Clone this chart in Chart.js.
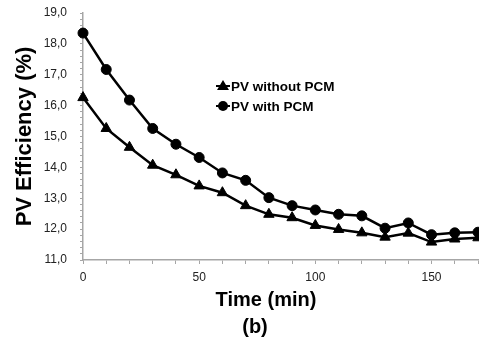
<!DOCTYPE html>
<html>
<head>
<meta charset="utf-8">
<script src="https://cdn.jsdelivr.net/npm/chart.js@4.4.0/dist/chart.umd.min.js"></script>
<style>
    html, body { margin: 0; padding: 0; background: #fff; }
    #wrap { position: relative; width: 479px; height: 347px; }
</style>
</head>
<body>
<div id="wrap"><canvas id="effChart"></canvas></div>
<script>
// Data
const times = [0, 10, 20, 30, 40, 50, 60, 70, 80, 90, 100, 110, 120, 130, 140, 150, 160, 170];
const pvWithoutPcm = [16.26, 15.26, 14.65, 14.07, 13.76, 13.40, 13.18, 12.76, 12.48, 12.37, 12.12, 11.99, 11.88, 11.74, 11.87, 11.58, 11.68, 11.72];
const pvWithPcm = [18.35, 17.17, 16.18, 15.26, 14.75, 14.32, 13.82, 13.58, 13.02, 12.76, 12.62, 12.48, 12.43, 12.03, 12.20, 11.82, 11.88, 11.90];
const seriesNames = ['PV without PCM', 'PV with PCM'];
const xTickLabels = [0, 50, 100, 150];
const yTickLabels = [11, 12, 13, 14, 15, 16, 17, 18, 19];

const FONT = "'Liberation Sans', Arial, sans-serif";

function toPoints(values) {
    return times.map((t, i) => ({ x: t, y: values[i] }));
}

// Legend + axis title + panel label drawn on the canvas
const extraText = {
    id: 'extraText',
    afterDraw(chart) {
        const ctx = chart.ctx;
        const area = chart.chartArea;
        ctx.save();
        ctx.fillStyle = '#000';
        ctx.strokeStyle = '#000';

        // legend
        const styles = ['triangle', 'circle'];
        seriesNames.forEach((name, i) => {
            const mx = area.left + 140;
            const my = area.top + 73 + i * 20;
            ctx.lineWidth = 2;
            ctx.beginPath();
            ctx.moveTo(mx - 7, my);
            ctx.lineTo(mx + 7, my);
            ctx.stroke();
            ctx.beginPath();
            if (styles[i] === 'circle') {
                ctx.arc(mx, my, 5, 0, Math.PI * 2);
            } else {
                ctx.moveTo(mx, my - 6);
                ctx.lineTo(mx + 6, my + 4);
                ctx.lineTo(mx - 6, my + 4);
                ctx.closePath();
            }
            ctx.fill();
            ctx.font = 'bold 13.5px ' + FONT;
            ctx.textAlign = 'left';
            ctx.textBaseline = 'middle';
            ctx.fillText(name, mx + 8, my + 1);
        });

        // x axis title and panel label
        ctx.font = 'bold 20px ' + FONT;
        ctx.textAlign = 'center';
        ctx.textBaseline = 'middle';
        ctx.fillText('Time (min)', 266, 300);
        ctx.fillText('(b)', 255, 327);
        ctx.restore();
    }
};

const ctx = document.getElementById('effChart').getContext('2d');

new Chart(ctx, {
    type: 'line',
    data: {
        datasets: [
            {
                label: seriesNames[0],
                data: toPoints(pvWithoutPcm),
                borderColor: '#000',
                backgroundColor: '#000',
                borderWidth: 2.5,
                pointStyle: 'triangle',
                pointRadius: 6,
                pointBorderWidth: 1,
                tension: 0,
                clip: false
            },
            {
                label: seriesNames[1],
                data: toPoints(pvWithPcm),
                borderColor: '#000',
                backgroundColor: '#000',
                borderWidth: 2.5,
                pointStyle: 'circle',
                pointRadius: 5,
                pointBorderWidth: 1,
                tension: 0,
                clip: false
            }
        ]
    },
    options: {
        responsive: true,
        maintainAspectRatio: false,
        animation: false,
        layout: {
            autoPadding: false,
            padding: { left: 0, right: 1, top: 13, bottom: 0 }
        },
        plugins: {
            legend: { display: false },
            tooltip: { enabled: false },
            title: { display: false }
        },
        scales: {
            x: {
                type: 'linear',
                min: 0,
                max: 170,
                afterFit: s => {
                    s.height = 87;
                    s.paddingLeft = 0;
                    s.paddingRight = 0;
                },
                grid: {
                    drawOnChartArea: false,
                    color: '#a6a6a6',
                    tickLength: 4,
                    tickColor: '#a6a6a6'
                },
                border: { color: '#a6a6a6', width: 1.5 },
                ticks: {
                    stepSize: 10,
                    autoSkip: false,
                    maxRotation: 0,
                    padding: 6,
                    color: '#222',
                    font: { family: FONT, size: 12 },
                    callback: v => xTickLabels.includes(v) ? String(v) : ''
                }
            },
            y: {
                min: 11,
                max: 19,
                afterFit: s => {
                    s.width = 83;
                    s.paddingTop = 0;
                    s.paddingBottom = 0;
                },
                grid: {
                    drawOnChartArea: false,
                    color: '#a6a6a6',
                    tickLength: 3,
                    tickColor: '#a6a6a6'
                },
                border: { color: '#a6a6a6', width: 1.5 },
                ticks: {
                    stepSize: 0.2,
                    autoSkip: false,
                    padding: 13,
                    color: '#222',
                    font: { family: FONT, size: 12 },
                    callback: v => {
                        const r = Math.round(v);
                        if (Math.abs(v - r) < 1e-6 && yTickLabels.includes(r)) {
                            return r.toFixed(1).replace('.', ',');
                        }
                        return '';
                    }
                },
                title: {
                    display: true,
                    text: 'PV Efficiency (%)',
                    color: '#000',
                    font: { family: FONT, size: 22, weight: 'bold' },
                    padding: { top: 12, bottom: 0 }
                }
            }
        }
    },
    plugins: [extraText]
});
</script>
</body>
</html>
